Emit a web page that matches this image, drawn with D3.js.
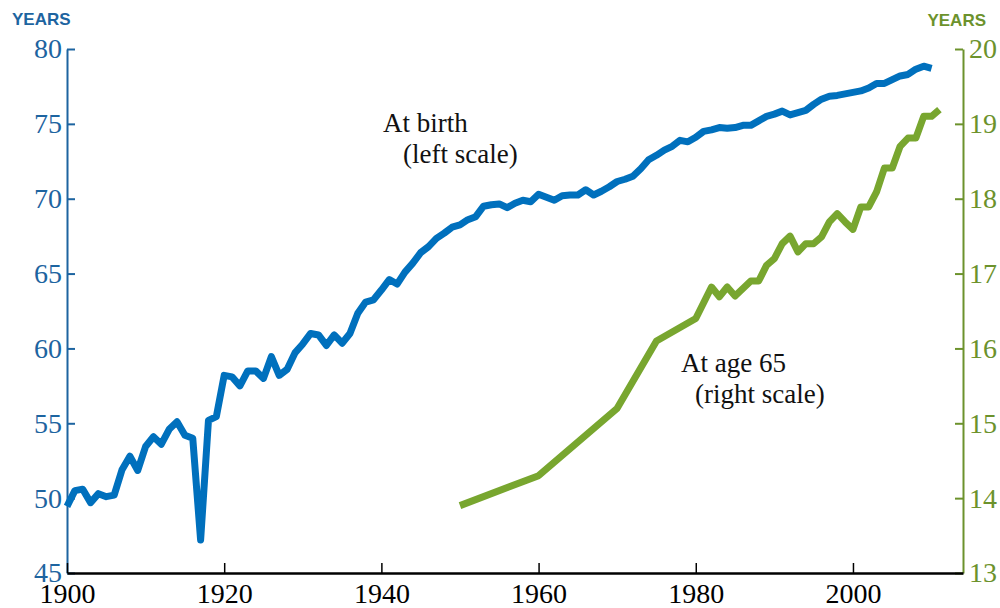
<!DOCTYPE html>
<html>
<head>
<meta charset="utf-8">
<script src="https://cdn.jsdelivr.net/npm/d3@7"></script>
<style>
    body { margin: 0; background: #fff; }
    svg { display: block; }
    .tick text { font-family: "Liberation Serif", serif; font-size: 28px; }
</style>
</head>
<body>
<div id="chart"></div>
<script>
(function () {
    "use strict";

    // life expectancy at birth, one value a year from 1900
    const birthStartYear = 1900;
    const birthValues = [
        49.45, 50.5, 50.6, 49.7, 50.3, 50.1, 50.2, 51.9, 52.8, 51.85,
        53.45, 54.1, 53.6, 54.6, 55.1, 54.2, 54.0, 47.2, 55.2, 55.45,
        58.2, 58.1, 57.5, 58.5, 58.5, 58.0, 59.45, 58.2, 58.6, 59.7,
        60.3, 61.0, 60.9, 60.2, 60.9, 60.35, 61.0, 62.35, 63.1, 63.25,
        63.9, 64.6, 64.3, 65.1, 65.7, 66.4, 66.8, 67.35, 67.7, 68.1,
        68.25, 68.6, 68.8, 69.5, 69.6, 69.65, 69.4, 69.7, 69.9, 69.8,
        70.3, 70.1, 69.9, 70.2, 70.25, 70.25, 70.6, 70.25, 70.5, 70.8,
        71.15, 71.3, 71.5, 72.0, 72.6, 72.9, 73.25, 73.5, 73.9, 73.8,
        74.1, 74.5, 74.6, 74.75, 74.7, 74.75, 74.9, 74.9, 75.2, 75.5,
        75.65, 75.85, 75.6, 75.75, 75.9, 76.3, 76.65, 76.85, 76.9, 77.0,
        77.1, 77.2, 77.4, 77.7, 77.7, 77.95, 78.2, 78.3, 78.65, 78.85,
        78.7
    ];

    // life expectancy at age 65
    const age65Years = [
        1950, 1960, 1970, 1975, 1980, 1982, 1983, 1984, 1985, 1986,
        1987, 1988, 1989, 1990, 1991, 1992, 1993, 1994, 1995, 1996,
        1997, 1998, 1999, 2000, 2001, 2002, 2003, 2004, 2005, 2006,
        2007, 2008, 2009, 2010, 2011
    ];
    const age65Values = [
        13.9, 14.3, 15.2, 16.1, 16.4, 16.82, 16.69, 16.82, 16.7, 16.8,
        16.9, 16.9, 17.11, 17.2, 17.4, 17.5, 17.29, 17.4, 17.4, 17.49,
        17.69, 17.8, 17.69, 17.59, 17.89, 17.89, 18.09, 18.41, 18.41, 18.7,
        18.81, 18.81, 19.1, 19.1, 19.19
    ];

    const xTicks = [1900, 1920, 1940, 1960, 1980, 2000];
    const leftTicks = [45, 50, 55, 60, 65, 70, 75, 80];
    const rightTicks = [13, 14, 15, 16, 17, 18, 19, 20];

    const blue = "#0070bd";
    const blueText = "#1d64a0";
    const green = "#78a62f";
    const greenText = "#6c922c";

    const width = 1000;
    const height = 608;

    const svg = d3.select("#chart").append("svg")
        .attr("width", width)
        .attr("height", height);

    const xScale = d3.scaleLinear().domain([1900, 2014]).range([67, 963]);
    const yLeft = d3.scaleLinear().domain([45, 80]).range([573, 49]);
    const yRight = d3.scaleLinear().domain([13, 20]).range([573, 49]);

    const birthData = birthValues.map((v, i) => ({ year: birthStartYear + i, value: v }));
    const age65Data = age65Years.map((y, i) => ({ year: y, value: age65Values[i] }));

    // left axis
    const leftAxis = svg.append("g")
        .attr("transform", "translate(" + xScale.range()[0] + ",0)")
        .call(d3.axisLeft(yLeft).tickValues(leftTicks).tickFormat(d3.format("d"))
            .tickSizeInner(-8).tickSizeOuter(0).tickPadding(5));
    leftAxis.selectAll("path, line").attr("stroke", blueText).attr("stroke-width", 2);
    leftAxis.selectAll("text").attr("fill", blueText);

    // right axis
    const rightAxis = svg.append("g")
        .attr("transform", "translate(" + xScale.range()[1] + ",0)")
        .call(d3.axisRight(yRight).tickValues(rightTicks).tickFormat(d3.format("d"))
            .tickSizeInner(-8).tickSizeOuter(0).tickPadding(6));
    rightAxis.selectAll("path, line").attr("stroke", greenText).attr("stroke-width", 2);
    rightAxis.selectAll("text").attr("fill", greenText);

    // bottom axis
    const bottomAxis = svg.append("g")
        .attr("transform", "translate(0," + yLeft.range()[0] + ")")
        .call(d3.axisBottom(xScale).tickValues(xTicks).tickFormat(d3.format("d"))
            .tickSizeInner(-10).tickSizeOuter(0).tickPadding(10));
    bottomAxis.selectAll("path").attr("stroke", "#000").attr("stroke-width", 2.5);
    bottomAxis.selectAll("line").attr("stroke", "#000").attr("stroke-width", 1.5);
    bottomAxis.selectAll("text").attr("fill", "#000");

    // axis unit labels
    svg.append("text")
        .attr("x", 12).attr("y", 25)
        .attr("font-family", "Liberation Sans, Arial, sans-serif")
        .attr("font-weight", "bold").attr("font-size", 17)
        .attr("fill", blueText)
        .text("YEARS");

    svg.append("text")
        .attr("x", 986).attr("y", 26)
        .attr("text-anchor", "end")
        .attr("font-family", "Liberation Sans, Arial, sans-serif")
        .attr("font-weight", "bold").attr("font-size", 17)
        .attr("fill", greenText)
        .text("YEARS");

    // lines
    const birthLine = d3.line()
        .x(d => xScale(d.year))
        .y(d => yLeft(d.value));

    const age65Line = d3.line()
        .x(d => xScale(d.year))
        .y(d => yRight(d.value));

    svg.append("path")
        .datum(age65Data)
        .attr("d", age65Line)
        .attr("fill", "none")
        .attr("stroke", green)
        .attr("stroke-width", 7)
        .attr("stroke-linejoin", "round");

    svg.append("path")
        .datum(birthData)
        .attr("d", birthLine)
        .attr("fill", "none")
        .attr("stroke", blue)
        .attr("stroke-width", 7)
        .attr("stroke-linejoin", "round");

    // annotations
    const notes = [
        { x: 383, y: 132, text: "At birth" },
        { x: 403, y: 163, text: "(left scale)" },
        { x: 681, y: 372, text: "At age 65" },
        { x: 695, y: 403, text: "(right scale)" }
    ];

    svg.selectAll(".note")
        .data(notes)
        .enter().append("text")
        .attr("class", "note")
        .attr("x", d => d.x)
        .attr("y", d => d.y)
        .attr("font-family", "Liberation Serif, serif")
        .attr("font-size", 27)
        .attr("fill", "#111")
        .text(d => d.text);
}());
</script>
</body>
</html>
